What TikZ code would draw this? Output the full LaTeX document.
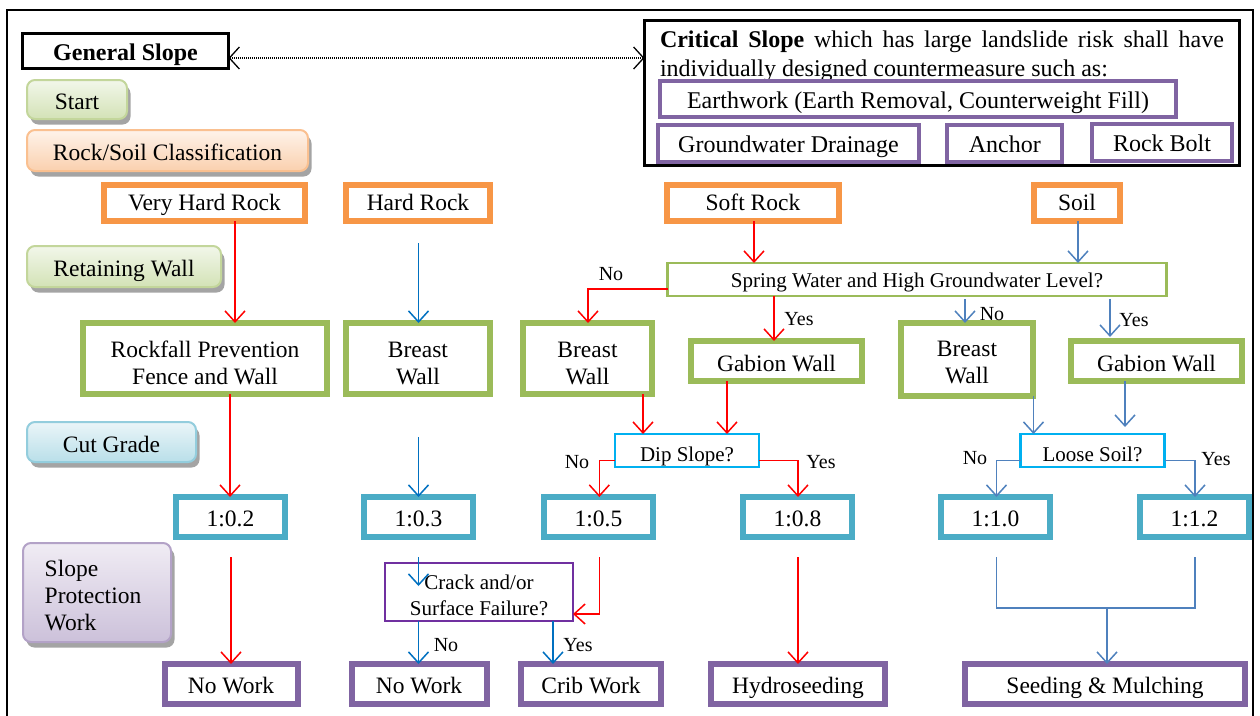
\documentclass[tikz,border=0pt]{standalone}
\usepackage{fontspec}
\setmainfont{Liberation Serif}
\usetikzlibrary{arrows.meta,shadows}
\definecolor{cOr}{HTML}{F79646}
\definecolor{cGr}{HTML}{9BBB59}
\definecolor{cTe}{HTML}{4BACC6}
\definecolor{cPu}{HTML}{8064A2}
\definecolor{cCy}{HTML}{00B0F0}
\definecolor{cVi}{HTML}{7030A0}
\definecolor{cRe}{HTML}{FF0000}
\definecolor{cBl}{HTML}{0070C0}
\definecolor{cSb}{HTML}{4F81BD}
\definecolor{lgTop}{HTML}{F2F7EA}
\definecolor{lgBot}{HTML}{D3E2B6}
\definecolor{lgBd}{HTML}{C3D69B}
\definecolor{loTop}{HTML}{FEF3EA}
\definecolor{loBot}{HTML}{FAD0AE}
\definecolor{loBd}{HTML}{FAC090}
\definecolor{lbTop}{HTML}{EAF5F8}
\definecolor{lbBot}{HTML}{B9DFE9}
\definecolor{lbBd}{HTML}{93CDDD}
\definecolor{lpTop}{HTML}{F0ECF4}
\definecolor{lpBot}{HTML}{CCC1DA}
\definecolor{lpBd}{HTML}{B3A2C7}
\newcommand{\fm}{\fontsize{23.5}{27}\selectfont}
\newcommand{\fc}{\fontsize{24}{29}\selectfont}
\newcommand{\fq}{\fontsize{21}{26}\selectfont}
\newcommand{\fl}{\fontsize{20}{24}\selectfont}
\begin{document}
\begin{tikzpicture}[x=1pt,y=-1pt,
  every node/.style={font=\fm, inner sep=0pt, outer sep=0pt, align=center, text=black},
  ob/.style={draw=cOr, line width=6pt, fill=white, text height=20.4pt, text depth=5pt},
  gb/.style={draw=cGr, line width=6pt, fill=white},
  gbs/.style={gb, text height=21pt, text depth=0pt},
  tb/.style={draw=cTe, line width=6pt, fill=white, text height=20pt, text depth=2pt},
  pb/.style={draw=cPu, line width=6pt, fill=white, text height=20.6pt, text depth=2pt},
  eb/.style={draw=cPu, line width=4pt, fill=white, font=\fc, text height=20pt, text depth=2pt},
  qb/.style={draw=cCy, line width=2.5pt, fill=white, font=\fq, text height=21pt, text depth=0pt},
  leg/.style={rounded corners=8pt, line width=2pt,
     drop shadow={shadow xshift=3.5pt, shadow yshift=-5.5pt, fill=black!55, opacity=0.65}},
  lgg/.style={leg, draw=lgBd, top color=lgTop, bottom color=lgBot},
  lgo/.style={leg, draw=loBd, top color=loTop, bottom color=loBot},
  lgb/.style={leg, draw=lbBd, top color=lbTop, bottom color=lbBot},
  lgp/.style={leg, draw=lpBd, top color=lpTop, bottom color=lpBot},
  lgt/.style={text height=22pt, text depth=2pt},
  lab/.style={font=\fl},
  tipv/.style={-{Straight Barb[length=11pt,width=20pt]}},
  ra/.style={draw=cRe, line width=1.5pt, tipv},
  ba/.style={draw=cBl, line width=1.5pt, tipv},
  sa/.style={draw=cSb, line width=1.5pt, tipv},
  sl/.style={draw=cSb, line width=1.5pt},
]
\useasboundingbox (0,0) rectangle (1260,715);
\draw[line width=2pt] (7,720) -- (7,10) -- (1253,10) -- (1253,720);

% column coordinates
\coordinate (cA) at (235,0);
\coordinate (cB) at (230,0);
\coordinate (cHR) at (418.5,0);
\coordinate (cCY) at (553,0);
\coordinate (cSN) at (588,0);
\coordinate (cDN) at (599.3,0);
\coordinate (cBD) at (643,0);
\coordinate (cGD) at (727,0);
\coordinate (cSR) at (754,0);
\coordinate (cSY) at (774,0);
\coordinate (cDY) at (798,0);
\coordinate (cLN) at (996.5,0);
\coordinate (cBL) at (1033.5,0);
\coordinate (cSO) at (1078,0);
\coordinate (cGL) at (1125,0);
\coordinate (cLY) at (1195,0);

% top
\node[draw=black, line width=2.5pt, minimum width=206pt, minimum height=35pt, font=\fc\bfseries, text height=20pt, text depth=2pt] (gs) at (125.5,51) {General Slope};
\node[draw=black, line width=3pt, fill=white, minimum width=595pt, minimum height=145pt] (cs) at (942,93) {};
\node[anchor=base west, font=\fc] (ct1) at (660,47) {\hbox to 564pt{\textbf{Critical Slope} which has large landslide risk shall have}};
\node[anchor=base west, font=\fc] (ct2) at (660,76) {individually designed countermeasure such as:};
\node[eb, minimum width=516pt, minimum height=36pt] (ew) at (918,99) {Earthwork (Earth Removal, Counterweight Fill)};
\node[eb, minimum width=261pt, minimum height=37pt] (gd) at (788.5,143.5) {Groundwater Drainage};
\node[eb, minimum width=115pt, minimum height=37pt] (an) at (1004.75,143.5) {Anchor};
\node[eb, minimum width=140pt, minimum height=37pt] (rb) at (1162,142.5) {Rock Bolt};
\coordinate (ga) at ([yshift=-7pt]gs.east);
\draw[line width=1.3pt, dash pattern=on 1pt off 1pt,
  {Straight Barb[length=10pt,width=22pt]}-{Straight Barb[length=10pt,width=22pt]}]
  (ga) -- (cs.west |- ga);

% legend
\node[lgg, lgt, minimum width=100pt, minimum height=39pt] (lst) at (77,99.5) {Start};
\node[lgo, lgt, minimum width=281pt, minimum height=41pt] (lrs) at (167.5,150.5) {Rock/Soil Classification};
\node[lgg, lgt, minimum width=194pt, minimum height=41pt] (lrw) at (124,266.5) {Retaining Wall};
\node[lgb, lgt, minimum width=169pt, minimum height=40pt] (lcg) at (111.5,442) {Cut Grade};
\node[lgp, minimum width=148pt, minimum height=99pt, align=left] (lsp) at (97,592.5) {\rule{0pt}{22.5pt}Slope\\Protection\rule{8pt}{0pt}\\Work};

% row 1
\node[ob, minimum width=201pt, minimum height=36pt] (vhr) at (204.5,203) {Very Hard Rock};
\node[ob, minimum width=144pt, minimum height=36pt] (hr) at (418,203) {Hard Rock};
\node[ob, minimum width=172pt, minimum height=36pt] (sr) at (753,203) {Soft Rock};
\node[ob, minimum width=86pt, minimum height=36pt] (so) at (1077,203) {Soil};

\node[draw=cGr, line width=2.5pt, fill=white, font=\fq, text height=19pt, text depth=4pt, minimum width=499pt, minimum height=33pt] (sw) at (917,279.5) {Spring Water and High Groundwater Level?};

% row 2
\node[gb, minimum width=244pt, minimum height=71pt] (rf) at (205,358.5) {\rule{0pt}{26pt}Rockfall Prevention\\Fence and Wall};
\node[gb, minimum width=144pt, minimum height=71pt] (bw1) at (418,358.5) {\rule{0pt}{26pt}Breast\\Wall};
\node[gb, minimum width=129pt, minimum height=71pt] (bw2) at (587.5,358.5) {\rule{0pt}{26pt}Breast\\Wall};
\node[gbs, minimum width=171pt, minimum height=40pt] (gw1) at (776.5,361) {Gabion Wall};
\node[gb, minimum width=132pt, minimum height=73pt] (bw3) at (967,359.5) {\rule{0pt}{22pt}Breast\\Wall};
\node[gbs, minimum width=171pt, minimum height=40pt] (gw2) at (1156.5,361) {Gabion Wall};

\node[qb, minimum width=144pt, minimum height=33pt] (dip) at (687,450.5) {Dip Slope?};
\node[qb, minimum width=144pt, minimum height=33pt] (ls) at (1092.5,450.5) {Loose Soil?};

% row 3
\node[tb, minimum width=109pt, minimum height=40pt] (g02) at (230.5,517) {1:0.2};
\node[tb, minimum width=109pt, minimum height=40pt] (g03) at (418.5,517) {1:0.3};
\node[tb, minimum width=109pt, minimum height=40pt] (g05) at (598.5,517) {1:0.5};
\node[tb, minimum width=109pt, minimum height=40pt] (g08) at (797.5,517) {1:0.8};
\node[tb, minimum width=109pt, minimum height=40pt] (g10) at (995.5,517) {1:1.0};
\node[tb, minimum width=109pt, minimum height=40pt] (g12) at (1194.5,517) {1:1.2};

\node[draw=cVi, line width=2.5pt, fill=white, font=\fq, minimum width=188pt, minimum height=58pt] (cr) at (479,592) {\rule{0pt}{21.5pt}Crack and/or\\Surface Failure?};

% row 4
\node[pb, minimum width=133pt, minimum height=40pt] (nw1) at (231,684) {No Work};
\node[pb, minimum width=135pt, minimum height=40pt] (nw2) at (419,684) {No Work};
\node[pb, minimum width=140pt, minimum height=40pt] (cw) at (591,684) {Crib Work};
\node[pb, minimum width=174pt, minimum height=40pt] (hy) at (798,684) {Hydroseeding};
\node[pb, minimum width=280pt, minimum height=40pt] (sm) at (1105,684) {Seeding \& Mulching};

% connectors: very hard rock column
\draw[ra] (cA |- vhr.south) -- (cA |- rf.north);
\draw[ra] (cB |- rf.south) -- (cB |- g02.north);
\coordinate (p02) at (231,557);
\draw[ra] (p02) -- (p02 |- nw1.north);

% hard rock column
\coordinate (h1) at (418.5,243);
\draw[ba] (h1) -- (h1 |- bw1.north);
\coordinate (h2) at (418.5,437);
\draw[ba] (h2) -- (h2 |- g03.north);
\coordinate (h3) at (418.5,557);
\coordinate (h3e) at (418.5,586);
\draw[ba] (h3) -- (h3e);
\draw[ba] (cHR |- cr.south) -- (cHR |- nw2.north);
\node[lab] (lno3) at (446,645) {No};
\draw[ba] (cCY |- cr.south) -- (cCY |- cw.north);
\node[lab] (lye3) at (578,645) {Yes};

% soft rock
\draw[ra] (cSR |- sr.south) -- (cSR |- sw.north);
\draw[ra] ([yshift=-9.5pt]sw.west) -| (cSN |- bw2.north);
\node[lab] (lno1) at (611,274) {No};
\draw[ra] (cSY |- sw.south) -- (cSY |- gw1.north);
\node[lab] (lye1) at (799,319) {Yes};
\draw[ra] (cBD |- bw2.south) -- (cBD |- dip.north);
\draw[ra] (cGD |- gw1.south) -- (cGD |- dip.north);
\draw[ra] ([yshift=-10pt]dip.west) -| (cDN |- g05.north);
\node[lab] (lno2) at (577,462) {No};
\draw[ra] ([yshift=-10pt]dip.east) -| (cDY |- g08.north);
\node[lab] (lye2) at (821,462) {Yes};
\coordinate (p05) at (599.3,557);
\draw[ra] (p05) |- ([yshift=-22pt]cr.east);
\coordinate (p08) at (798,557);
\draw[ra] (p08) -- (p08 |- hy.north);

% soil
\draw[sa] (cSO |- so.south) -- (cSO |- sw.north);
\coordinate (s1) at (965,299);
\draw[sa] (s1) -- (s1 |- bw3.north);
\node[lab] (lno4) at (992,314) {No};
\coordinate (s2) at (1110,299);
\draw[sa, shorten >=4pt] (s2) -- (s2 |- gw2.north);
\node[lab] (lye4) at (1134,320) {Yes};
\draw[sa] (cBL |- bw3.south) -- (cBL |- ls.north);
\draw[sa, shorten >=7pt] (cGL |- gw2.south) -- (cGL |- ls.north);
\draw[sa] ([yshift=-10pt]ls.west) -| (cLN |- g10.north);
\node[lab] (lno5) at (975,458) {No};
\draw[sa] ([yshift=-10pt]ls.east) -| (cLY |- g12.north);
\node[lab] (lye5) at (1216,459) {Yes};
\coordinate (p10) at (996.5,557);
\coordinate (p12) at (1195,557);
\coordinate (pm) at (1107,608);
\draw[sl] (p10) |- (pm) -| (p12);
\draw[sa] (pm) -- (pm |- sm.north);
\end{tikzpicture}
\end{document}
